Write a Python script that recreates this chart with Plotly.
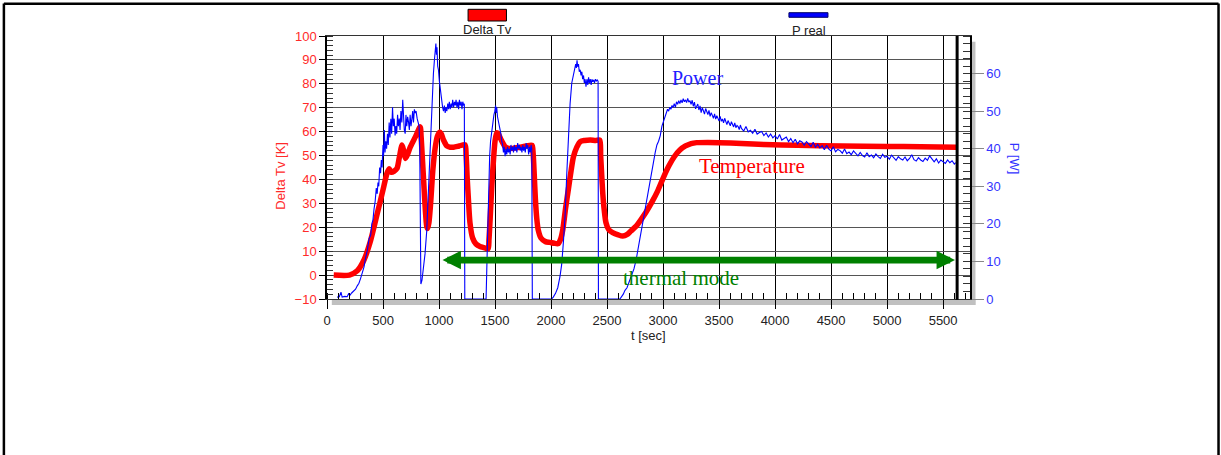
import plotly.graph_objects as go

# ---------------- data ----------------
t_temp = [60, 200, 270, 330, 390, 450, 500, 535, 555, 575, 600, 625, 645, 670, 685, 700, 715, 745, 790, 832,
          840, 850, 862, 876, 890, 898, 910, 925, 945, 965, 985, 1005, 1020, 1040, 1070, 1100, 1130, 1180,
          1232, 1242, 1252, 1262, 1276, 1300, 1330, 1365, 1400, 1438, 1446, 1458, 1472, 1486, 1500, 1515,
          1530, 1550, 1590, 1620, 1660, 1720, 1780, 1830, 1840, 1850, 1860, 1872, 1885, 1910, 1950, 1990,
          2030, 2065, 2085, 2105, 2130, 2155, 2180, 2200, 2230, 2260, 2300, 2350, 2400, 2435, 2443, 2452,
          2462, 2473, 2490, 2515, 2550, 2600, 2640, 2680, 2710, 2760, 2800, 2850, 2900, 2950, 3000, 3050,
          3100, 3150, 3200, 3250, 3300, 3400, 3500, 3700, 3900, 4200, 4600, 5000, 5300, 5620]
delta_tv = [0, 0, 1.8, 6.3, 14.6, 26, 35.6, 42.5, 44.5, 43, 43.5, 44.6, 49, 54.4, 52, 48.8, 50, 53.7, 57.9, 62,
            58, 50, 40, 28.6, 20.5, 19.5, 22, 30, 44, 53, 58, 59.8, 59, 56.5, 54, 53.5, 53.5, 54,
            54.5, 50, 40, 32, 22, 15.5, 13, 12, 11.5, 11, 15, 25, 38, 48, 56, 59.5,
            59, 57, 53.7, 53, 53, 53.5, 54, 54.3, 51, 42, 32, 24, 19, 15.5, 14, 13.7,
            13.3, 13.2, 15, 19, 28, 36, 44, 49.5, 53.5, 55.8, 56.3, 56.5, 56.3, 56.5, 50, 42,
            34, 28, 22, 19, 17.8, 16.8, 16.3, 17, 18.3, 20.5, 23, 26.5, 30.5, 35, 40.5, 45.5,
            49.5, 52.3, 54, 55, 55.4, 55.5, 55.4, 55, 54.6, 54.3, 54, 53.8, 53.7, 53.5]

t_power = [90, 110, 125, 135, 160, 180, 195, 205, 220, 240, 255, 270, 285, 300, 315, 330, 345, 360, 375, 390,
           400, 410, 420, 430, 440, 448, 455, 462, 470, 478, 485, 492, 500, 505, 512, 518, 525, 532, 540, 547,
           555, 562, 570, 577, 585, 592, 600, 608, 615, 622, 630, 637, 645, 652, 660, 668, 676, 683, 690, 698,
           705, 712, 720, 728, 735, 742, 750, 758, 765, 772, 780, 788, 795, 805, 815, 822, 828, 833, 838, 848,
           860, 875, 890, 905, 920, 935, 950, 960, 967, 972, 977, 982, 988, 995, 1003, 1010, 1018, 1025, 1032,
           1040, 1048, 1055, 1062, 1070, 1078, 1085, 1092, 1100, 1108, 1115, 1122, 1130, 1138, 1145, 1152,
           1160, 1168, 1175, 1182, 1190, 1198, 1205, 1212, 1220, 1226, 1230, 1420, 1428, 1436, 1444, 1452,
           1460, 1470, 1480, 1490, 1498, 1505, 1510, 1515, 1522, 1530, 1538, 1545, 1552, 1560, 1568, 1575,
           1582, 1590, 1598, 1605, 1612, 1620, 1628, 1635, 1642, 1650, 1658, 1665, 1672, 1680, 1688, 1695,
           1702, 1710, 1718, 1725, 1732, 1740, 1748, 1755, 1762, 1770, 1778, 1785, 1792, 1800, 1808, 1815,
           1822, 1828, 1833, 2005, 2020, 2040, 2060, 2080, 2095, 2110, 2125, 2140, 2155, 2170, 2185, 2200,
           2212, 2220, 2226, 2232, 2238, 2245, 2252, 2260, 2268, 2275, 2282, 2290, 2297, 2304, 2312, 2320,
           2328, 2335, 2342, 2350, 2358, 2365, 2372, 2380, 2388, 2396, 2404, 2412, 2420, 2423, 2615, 2630,
           2645, 2660, 2678, 2700, 2720, 2740, 2760, 2780, 2800, 2820, 2840, 2860, 2880, 2900, 2915, 2930,
           2945, 2960, 2975, 2990, 3000, 3010, 3020, 3030, 3040, 3050, 3060, 3070, 3080, 3090, 3100, 3110,
           3120, 3130, 3140, 3150, 3160, 3170, 3180, 3190, 3200, 3210, 3220, 3230, 3240,
           3250, 3260, 3270, 3280, 3290, 3300, 3310, 3320, 3330, 3340,
           3350, 3360, 3370, 3380, 3390, 3400, 3410, 3420, 3430, 3440,
           3450, 3460, 3470, 3480, 3490, 3500, 3510, 3520, 3530, 3540,
           3550, 3560, 3570, 3580, 3590, 3600, 3610, 3620, 3630, 3640,
           3650, 3660, 3670, 3680, 3690, 3700,
           3720, 3740, 3760, 3780, 3800, 3820, 3840, 3860, 3880, 3900,
           3920, 3940, 3960, 3980, 4000, 4020, 4040, 4060, 4080, 4100,
           4120, 4140, 4160, 4180, 4200, 4220, 4240, 4260, 4280, 4300,
           4320, 4340, 4360, 4380, 4400, 4420, 4440, 4460, 4480, 4500,
           4520, 4540, 4560, 4580, 4600, 4620, 4640, 4660, 4680, 4700,
           4720, 4740, 4760, 4780, 4800, 4820, 4840, 4860, 4880, 4900,
           4920, 4940, 4960, 4980, 5000, 5020, 5040, 5060, 5080, 5100,
           5120, 5140, 5160, 5180, 5200, 5220, 5240, 5260, 5280, 5300,
           5320, 5340, 5360, 5380, 5400, 5420, 5440, 5460, 5480, 5500,
           5520, 5540, 5560, 5580, 5600, 5612]
p_real = [0.5, 0.6, 1.8, 0.5, 0.7, 0.6, 1.5, 1.0, 1.6, 2.2, 2.6, 3.5, 4.2, 5.5, 7, 8.5, 11, 13, 16, 17,
          20, 21, 24, 26, 29.5, 28, 31, 30, 35, 33.5, 37, 35, 41, 38, 45, 39, 42, 40, 44, 41,
          47, 43, 48, 44, 51, 46, 48, 43.5, 46, 44, 49, 46, 48, 45, 50, 47, 53, 48, 45, 44,
          49, 46, 48.5, 47, 45, 49, 46, 48, 50, 47, 50.5, 49.5, 50, 48, 47, 46, 40, 20, 4, 5,
          7.5, 12, 18, 28, 40, 52, 60, 64, 66, 68, 65, 67, 62, 61, 58, 56, 54.5, 53, 51,
          50, 51.5, 49.5, 51, 50, 52, 50.5, 52.5, 50.5, 52, 51, 53, 51, 52.5, 51.5, 53,
          51, 52.5, 50.5, 53, 51.5, 52.5, 50.5, 52.5, 51.5, 52, 0, 0, 10, 22, 32, 38,
          42, 45, 47, 49, 50, 51.5, 49.5, 51, 48.5, 47.5, 46, 45, 44, 42, 41, 39,
          40.5, 38, 40, 38.5, 40.5, 39, 40, 38.5, 41, 39.5, 40.5, 39, 41, 39.5, 40.5, 39,
          41.5, 40, 41, 39.5, 40.5, 39, 41, 39.5, 40.5, 39, 41.5, 40, 41, 38.5, 40.5, 39,
          41, 40, 0, 0, 0.5, 1.5, 3, 6, 9.2, 15, 22, 33, 44, 52, 57.5, 60,
          61, 62.5, 61.5, 63.5, 61.8, 62.5, 60.5, 61, 59.5, 60.5, 58.5, 59.5, 57.5, 58.5, 56.5, 58.5,
          57, 59, 57.5, 58.5, 57, 58.5, 57.8, 58.3, 57.5, 58.5, 58, 58.3, 58, 0, 0, 0.6,
          1.3, 2.3, 3, 4.8, 6.5, 8, 10.5, 14, 17, 20, 23.5, 27.5, 31, 34, 36.5, 39,
          41, 42, 43.5, 46, 47, 48, 49, 49.5, 50.5, 50, 51, 50.5, 51.5, 51, 52, 51,
          52.5, 51.8, 52.8, 52, 53, 52.2, 53.3, 52.5, 53, 52.3, 53.4, 52.4, 52.8,
          51.8, 52.9, 51.3, 52.4, 50.6, 51.2, 51.9, 50.3, 51.4, 49.6,
          50.9, 50.1, 49.2, 50.7, 49.8, 49.1, 50.2, 48.6, 49.6, 48.9,
          48.1, 49.3, 47.9, 48.8, 48.2, 47.4, 48.6, 47.3, 47.9, 46.9,
          48.1, 47.2, 46.4, 47.5, 46.8, 46.1, 47.2, 46.3, 45.8, 46.9,
          45.6, 46.2, 45.9, 45.1, 46.3, 45.4,
          44.7, 45.9, 44.5, 44.9, 44.1, 45.2, 43.9, 44.3, 44.6, 43.5,
          44.2, 43.1, 43.9, 42.9, 43.5, 42.6, 43.8, 42.3, 42.8, 43.1,
          41.9, 42.7, 41.6, 42.5, 41.3, 42.1, 41.8, 40.9, 41.9, 41.1,
          40.6, 41.7, 40.4, 41.2, 40.2, 40.8, 39.7, 40.9, 39.9, 39.4,
          40.5, 39.2, 39.8, 39.5, 38.8, 39.9, 38.7, 39.1, 38.4, 39.4,
          38.6, 38.1, 39.0, 38.2, 37.8, 38.9, 37.9, 38.3, 37.6, 38.6,
          37.9, 37.4, 38.5, 37.7, 38.0, 37.2, 38.3, 37.5, 36.9, 37.9,
          37.3, 37.0, 37.8, 36.8, 37.4, 38.4, 37.1, 36.7, 37.6, 37.0,
          36.6, 37.5, 36.9, 38.1, 37.2, 36.5, 37.3, 36.2, 37.0, 36.6,
          36.1, 37.0, 36.3, 36.8, 35.9, 36.3]

x_ticks = [0, 500, 1000, 1500, 2000, 2500, 3000, 3500, 4000, 4500, 5000, 5500]
y_left_ticks = [-10, 0, 10, 20, 30, 40, 50, 60, 70, 80, 90, 100]
y_right_ticks = [0, 10, 20, 30, 40, 50, 60]

x_range = [0, 5740]
y_left_range = [-10, 100]
y_right_range = [0, 70]
end_time = 5625
arrow_left_t = 1031
arrow_right_t = 5606
arrow_level = 6.3

RED = "#ff0000"
BLUE = "#0000ff"
GREEN = "#008000"
SANS = "Liberation Sans, Arial, sans-serif"
SERIF = "Liberation Serif, Times New Roman, serif"

n = min(len(t_power), len(p_real))

fig = go.Figure()
fig.add_trace(go.Scatter(x=t_temp, y=delta_tv, mode="lines", name="Delta Tv",
                         line=dict(color=RED, width=5.5, shape="spline", smoothing=0.7), yaxis="y"))
fig.add_trace(go.Scatter(x=t_power[:n], y=p_real[:n], mode="lines", name="P real",
                         line=dict(color=BLUE, width=1.1), yaxis="y2"))

fig.update_layout(
    width=1221, height=455,
    margin=dict(l=327, r=251, t=36, b=156),
    paper_bgcolor="white", plot_bgcolor="white",
    showlegend=False,
    font=dict(family=SANS, size=13, color="#222"),
    xaxis=dict(range=x_range, tickvals=x_ticks, ticks="outside", ticklen=9, tickcolor="black",
               showgrid=True, gridcolor="black", gridwidth=1,
               showline=True, linecolor="#333", linewidth=1, mirror=True,
               zeroline=False, tickfont=dict(size=13, color="#222"),
               minor=dict(ticks="inside", ticklen=6, dtick=100, tickcolor="black", showgrid=False)),
    yaxis=dict(range=y_left_range, tickvals=y_left_ticks, ticks="outside", ticklen=6, tickcolor="black",
               showgrid=True, gridcolor="#555", gridwidth=1, zeroline=False,
               showline=True, linecolor="black", linewidth=1.5,
               tickfont=dict(size=13, color="#ff2a2a"),
               minor=dict(ticks="inside", ticklen=6, dtick=2, tickcolor="#333", showgrid=False)),
    yaxis2=dict(range=y_right_range, tickvals=y_right_ticks, overlaying="y", side="right",
                ticks="outside", ticklen=12, tickcolor="#888", showgrid=False, zeroline=False,
                showline=True, linecolor="black", linewidth=1.5,
                tickfont=dict(size=13, color="#3333ff"),
                minor=dict(ticks="inside", ticklen=7, dtick=2, tickcolor="#333", showgrid=False)),
)

shapes = []
# gray shadow under and to the right of the plot
shapes.append(dict(type="rect", xref="paper", yref="paper", x0=0.0075, x1=1.0085, y0=-0.023, y1=-0.002,
                   fillcolor="#c0c0c0", line=dict(width=0), layer="below"))
shapes.append(dict(type="rect", xref="paper", yref="paper", x0=1.001, x1=1.0085, y0=-0.023, y1=0.978,
                   fillcolor="#c0c0c0", line=dict(width=0), layer="below"))
# thick end-of-record line
shapes.append(dict(type="line", xref="x", yref="paper", x0=end_time, x1=end_time, y0=-0.003, y1=1,
                   line=dict(color="black", width=3)))
# legend swatches
shapes.append(dict(type="rect", xref="paper", yref="paper", x0=0.2194, x1=0.2791, y0=1.057, y1=1.1015,
                   fillcolor=RED, line=dict(color="black", width=1)))
shapes.append(dict(type="rect", xref="paper", yref="paper", x0=0.7184, x1=0.7791, y0=1.0711, y1=1.0886,
                   fillcolor=BLUE, line=dict(color="#000066", width=1)))
# outer frame
shapes.append(dict(type="line", xref="paper", yref="paper", x0=-0.5025, x1=-0.5025, y0=-0.6, y1=1.1235,
                   line=dict(color="black", width=2.5)))
shapes.append(dict(type="line", xref="paper", yref="paper", x0=-0.5025, x1=1.3865, y0=1.1228, y1=1.1228,
                   line=dict(color="black", width=2.5)))
shapes.append(dict(type="line", xref="paper", yref="paper", x0=1.3865, x1=1.3865, y0=-0.6, y1=1.1235,
                   line=dict(color="black", width=2.5)))
fig.update_layout(shapes=shapes)

ann = []
ann.append(dict(xref="paper", yref="paper", x=0.2493, y=1.0247, text="Delta Tv", showarrow=False,
                font=dict(family=SANS, size=13, color="#222"), xanchor="center", yanchor="middle"))
ann.append(dict(xref="paper", yref="paper", x=0.749, y=1.0228, text="P real", showarrow=False,
                font=dict(family=SANS, size=13, color="#222"), xanchor="center", yanchor="middle"))
ann.append(dict(xref="paper", yref="paper", x=-0.072, y=0.4677, text="Delta Tv [K]", showarrow=False,
                textangle=-90, font=dict(family=SANS, size=13, color="#ff2a2a"),
                xanchor="center", yanchor="middle"))
ann.append(dict(xref="paper", yref="paper", x=1.0705, y=0.532, text="P [W]", showarrow=False,
                textangle=90, font=dict(family=SANS, size=13, color="#3333ff"),
                xanchor="center", yanchor="middle"))
ann.append(dict(xref="paper", yref="paper", x=0.5006, y=-0.137, text="t [sec]", showarrow=False,
                font=dict(family=SANS, size=13, color="#222"), xanchor="center", yanchor="middle"))
ann.append(dict(xref="paper", yref="paper", x=0.5766, y=0.8403, text="Power", showarrow=False,
                font=dict(family=SERIF, size=20, color="#2020ff"), xanchor="center", yanchor="middle"))
ann.append(dict(xref="paper", yref="paper", x=0.6608, y=0.5057, text="Temperature", showarrow=False,
                font=dict(family=SERIF, size=21, color=RED), xanchor="center", yanchor="middle"))
ann.append(dict(xref="paper", yref="paper", x=0.5503, y=0.0817, text="thermal mode", showarrow=False,
                font=dict(family=SERIF, size=21, color=GREEN), xanchor="center", yanchor="middle"))
# double-headed green arrow
ann.append(dict(xref="x", yref="y", x=arrow_right_t, y=arrow_level,
                axref="x", ayref="y", ax=arrow_left_t, ay=arrow_level,
                text="", showarrow=True, arrowside="end+start",
                arrowhead=2, startarrowhead=2, arrowsize=0.55, startarrowsize=0.55,
                arrowwidth=6.7, arrowcolor=GREEN, borderpad=0, borderwidth=0))
fig.update_layout(annotations=ann)

fig.write_html("out.html")
